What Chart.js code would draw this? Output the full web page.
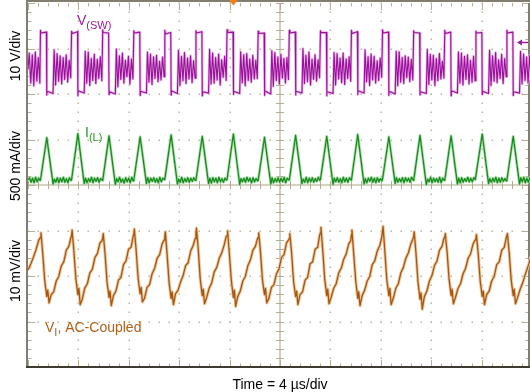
<!DOCTYPE html>
<html>
<head>
<meta charset="utf-8">
<script src="https://cdn.jsdelivr.net/npm/chart.js"></script>
<style>
    html, body { margin: 0; padding: 0; background: #fff; overflow: hidden; }
    #wrap { width: 530px; height: 392px; overflow: hidden; }
    canvas { display: block; }
</style>
</head>
<body>
<div id="wrap"><canvas id="scope" width="532" height="392"></canvas></div>
<script>
// screen: time in µs, vertical in divisions
const timePerDiv = 4;
const xDivs = 10;
const yDivs = 8;
const channelScales = ['10 V/div', '500 mA/div', '10 mV/div'];
const timeLabel = 'Time = 4 µs/div';
const triggerTime = 16.3;   // µs
const triggerLevel = 11;    // V on V(SW)

// rising edges of V(SW), µs
const edges = [0.99, 3.46, 5.93, 8.40, 10.86, 13.33, 15.80, 18.27,
               20.74, 23.21, 25.67, 28.14, 30.61, 33.08, 35.55, 38.01];

// V(SW), volts (10 V/div, 0 V sits 2.04 div above centre)
const swZero = 2.04;
const swLeadTime = [0, 0.10, 0.22, 0.34, 0.46, 0.58, 0.70, 0.82, 0.94];
const swLeadVolt = [5.0, 8.6, 2.0, 8.2, 1.4, 8.8, 2.4, 7.6, 2.0];
const swOffsets = [0.00, 0.05, 0.47, 0.50, 0.52, 1.00, 1.08, 1.20, 1.32,
                   1.44, 1.56, 1.68, 1.80, 1.92, 2.04, 2.16, 2.28, 2.40];
const swRows = [
    [13.6, 13.0, 13.2, -0.6, 0.2, -0.3, 9.3, 1.6, 8.5, 2.4, 8.0, 1.8, 7.6, 2.8, 8.2, 2.2, 7.0, 3.2],
    [13.4, 12.9, 13.3, -0.8, 0.3, -0.2, 9.0, 2.0, 8.8, 1.5, 7.4, 2.6, 8.3, 1.9, 7.2, 3.0, 7.8, 2.5],
    [13.7, 13.1, 13.0, -0.5, 0.1, -0.4, 9.5, 1.2, 8.0, 2.8, 8.6, 2.0, 7.0, 3.4, 7.9, 1.8, 7.3, 2.9],
    [13.5, 13.0, 13.2, -0.7, 0.2, -0.2, 8.8, 2.2, 8.4, 1.7, 7.8, 3.0, 8.1, 2.3, 6.8, 2.7, 7.7, 3.4],
    [13.6, 12.8, 13.1, -0.6, 0.3, -0.3, 9.2, 1.5, 7.9, 2.5, 8.7, 1.9, 7.5, 2.9, 8.0, 2.1, 6.9, 3.1],
    [13.5, 13.0, 13.3, -0.8, 0.1, -0.2, 9.4, 1.8, 8.6, 2.0, 7.6, 2.7, 8.4, 1.6, 7.1, 3.3, 7.9, 2.6],
    [13.7, 13.1, 13.2, -0.5, 0.2, -0.3, 8.9, 2.1, 8.2, 1.4, 8.5, 2.6, 7.3, 2.2, 8.1, 2.9, 7.0, 3.0],
    [13.4, 12.9, 13.0, -0.7, 0.3, -0.4, 9.1, 1.3, 8.7, 2.6, 7.7, 1.8, 8.3, 3.1, 7.4, 2.0, 7.6, 2.8],
    [13.6, 13.0, 13.2, -0.6, 0.2, -0.2, 9.6, 1.9, 8.1, 2.3, 8.8, 1.6, 7.2, 2.8, 8.2, 2.4, 7.1, 3.2],
    [13.5, 13.1, 13.1, -0.8, 0.1, -0.3, 8.7, 1.6, 8.5, 2.9, 7.5, 2.1, 8.6, 1.7, 7.3, 3.0, 7.8, 2.4],
    [13.6, 12.9, 13.3, -0.5, 0.3, -0.2, 9.3, 2.3, 7.8, 1.5, 8.4, 2.7, 7.9, 2.0, 6.9, 2.6, 7.5, 3.3],
    [13.7, 13.0, 13.2, -0.7, 0.2, -0.4, 9.0, 1.4, 8.9, 2.2, 7.6, 1.9, 8.0, 3.2, 7.7, 2.3, 7.2, 2.7],
    [13.5, 13.1, 13.0, -0.6, 0.1, -0.3, 9.4, 1.7, 8.3, 2.7, 8.1, 1.5, 7.4, 2.5, 8.5, 2.9, 6.8, 3.1],
    [13.6, 12.9, 13.2, -0.8, 0.3, -0.2, 8.8, 2.0, 8.6, 1.6, 7.9, 2.8, 8.2, 1.8, 7.0, 2.2, 7.9, 2.5],
    [13.4, 13.0, 13.1, -0.5, 0.2, -0.3, 9.2, 1.5, 8.0, 2.4, 8.7, 2.1, 7.1, 3.0, 8.3, 1.9, 7.4, 3.4],
    [13.6, 13.0, 13.2, -0.7, 0.1, -0.2, 9.0, 1.8, 8.4, 2.6, 7.7, 2.0, 8.1, 2.7, 7.5, 2.3, 7.2, 3.0]
];

// I(L), mA (500 mA/div, 0 mA sits 0.09 div above centre)
const ilZero = 0.09;
const ilLeadTime = [0, 0.12, 0.24, 0.36, 0.48, 0.60, 0.72, 0.84, 0.95];
const ilLeadAmp = [10, 35, -15, 30, -20, 40, -10, 30, 5];
const ilOffsets = [0.00, 0.50, 1.00, 1.10, 1.22, 1.34, 1.46, 1.58, 1.70,
                   1.82, 1.94, 2.06, 2.18, 2.30, 2.42];
const ilRows = [
    [10, 475, -35, 20, -15, 35, -20, 30, -10, 40, -15, 25, -20, 35, 5],
    [15, 520, -30, 30, -20, 25, -10, 40, -20, 30, -5, 35, -15, 25, 10],
    [5, 495, -40, 25, -10, 40, -15, 20, -25, 35, -10, 30, -20, 40, 0],
    [10, 485, -30, 35, -20, 30, -5, 35, -15, 25, -20, 40, -10, 30, 15],
    [20, 505, -35, 20, -15, 40, -20, 25, -10, 35, -15, 30, -5, 35, 5],
    [10, 490, -30, 30, -25, 35, -10, 30, -20, 40, -10, 25, -15, 30, 10],
    [15, 515, -40, 25, -10, 30, -15, 40, -5, 30, -20, 35, -10, 25, 0],
    [5, 480, -35, 35, -20, 25, -10, 35, -15, 30, -10, 40, -20, 30, 10],
    [10, 500, -30, 20, -15, 40, -20, 30, -10, 35, -15, 25, -5, 40, 5],
    [15, 490, -40, 30, -10, 35, -15, 25, -20, 40, -10, 30, -15, 35, 10],
    [10, 510, -35, 25, -20, 30, -5, 40, -15, 30, -20, 35, -10, 25, 0],
    [20, 485, -30, 35, -15, 25, -10, 35, -20, 35, -5, 30, -15, 40, 10],
    [5, 500, -40, 20, -10, 40, -20, 30, -10, 25, -15, 40, -20, 30, 5],
    [10, 495, -35, 30, -20, 35, -15, 25, -5, 40, -10, 30, -10, 35, 15],
    [15, 515, -30, 25, -15, 30, -10, 40, -20, 30, -15, 35, -5, 25, 0],
    [10, 490, -35, 35, -10, 40, -20, 30, -15, 35, -10, 25, -20, 30, 10]
];

// V(I) AC-coupled, mV (10 mV/div, 0 mV sits 1.87 div below centre)
const viZero = -1.87;
const viLeadTime = [0, 0.20, 0.45, 0.65, 0.85];
const viLeadMv = [0.0, 1.2, 3.0, 4.6, 6.6];
const viOffsets = [0.00, 0.04, 0.18, 0.34, 0.50, 0.58, 0.68, 0.85,
                   1.05, 1.25, 1.45, 1.65, 1.85, 2.05, 2.25, 2.40];
const viRows = [
    [7.2, 8.2, 3.6, -2.4, -5.8, -4.4, -7.2, -5.4, -4.8, -2.4, -1.4, 0.9, 1.8, 4.4, 5.2, 7.0],
    [7.6, 8.8, 4.2, -2.0, -5.4, -4.0, -7.6, -6.4, -3.9, -3.0, -0.6, 0.2, 2.8, 3.6, 6.0, 6.4],
    [7.0, 8.0, 3.8, -2.6, -6.0, -4.6, -7.8, -5.6, -4.6, -2.2, -1.6, 1.2, 2.0, 4.6, 5.0, 7.2],
    [8.0, 9.0, 4.4, -1.8, -5.2, -3.8, -7.0, -6.2, -3.8, -3.2, -0.8, 0.4, 2.6, 3.4, 5.8, 6.6],
    [7.4, 8.4, 3.4, -2.8, -6.2, -4.8, -7.6, -5.2, -4.4, -2.6, -1.2, 1.0, 1.6, 4.2, 5.4, 6.9],
    [8.4, 9.2, 4.6, -2.0, -5.6, -4.2, -7.4, -6.0, -4.0, -2.8, -0.4, 0.6, 2.6, 3.8, 5.6, 7.4],
    [7.6, 8.6, 3.6, -2.4, -6.0, -4.4, -8.0, -5.8, -4.6, -2.4, -1.4, 1.0, 2.2, 4.4, 5.2, 6.8],
    [7.2, 8.2, 4.0, -2.2, -5.4, -4.0, -7.2, -6.2, -3.8, -3.2, -0.8, 0.2, 2.8, 3.4, 6.0, 6.6],
    [7.0, 8.0, 3.8, -2.6, -5.8, -4.6, -7.6, -5.4, -4.8, -2.2, -1.6, 1.4, 1.8, 4.6, 5.0, 7.6],
    [8.2, 9.4, 4.4, -2.0, -5.6, -4.2, -7.4, -6.0, -4.0, -3.0, -0.6, 0.4, 2.4, 3.6, 5.8, 6.4],
    [7.8, 8.8, 3.6, -2.4, -6.2, -4.8, -7.8, -5.6, -4.4, -2.4, -1.4, 1.2, 2.0, 4.2, 5.4, 7.2],
    [8.6, 9.6, 4.2, -2.2, -5.6, -4.0, -7.6, -6.2, -4.0, -3.0, -0.6, 0.6, 2.6, 3.8, 5.8, 6.8],
    [7.4, 8.4, 3.8, -2.6, -6.4, -5.0, -8.6, -5.8, -4.6, -2.4, -1.2, 1.0, 2.0, 4.4, 5.2, 7.0],
    [7.2, 8.0, 4.0, -2.0, -5.6, -4.2, -7.4, -6.0, -4.0, -3.0, -0.8, 0.4, 2.6, 3.6, 5.8, 6.6],
    [6.8, 7.8, 3.6, -2.4, -5.8, -4.6, -7.6, -5.4, -4.6, -2.4, -1.4, 1.2, 1.8, 4.4, 5.0, 7.0],
    [7.0, 8.0, 3.8, -2.2, -5.6, -4.2, -7.4, -6.0, -4.2, -2.8, -1.0, 0.6, 2.4, 3.8, 5.6, 6.8]
];

const FONT = '"Liberation Sans", Arial, sans-serif';

// turn a channel's readings into screen points (div units)
function buildTrace(leadTime, leadVals, offsets, rows, zero, perDiv) {
    const points = [];
    leadTime.forEach((t, i) => points.push({ x: t, y: zero + leadVals[i] / perDiv }));
    rows.forEach((row, k) => {
        row.forEach((v, i) => points.push({ x: edges[k] + offsets[i], y: zero + v / perDiv }));
    });
    return points;
}

const swData = buildTrace(swLeadTime, swLeadVolt, swOffsets, swRows, swZero, 10);
const ilData = buildTrace(ilLeadTime, ilLeadAmp, ilOffsets, ilRows, ilZero, 500);
const viData = buildTrace(viLeadTime, viLeadMv, viOffsets, viRows, viZero, 10);

function traceSet(data, color, width, order) {
    return {
        data: data,
        borderColor: color,
        borderWidth: width,
        pointRadius: 0,
        tension: 0,
        borderJoinStyle: 'round',
        order: order
    };
}

// label with a subscript
function drawSubLabel(ctx, x, base, main, sub, rest, color) {
    ctx.fillStyle = color;
    ctx.font = '14px ' + FONT;
    ctx.fillText(main, x, base);
    let cx = x + ctx.measureText(main).width;
    ctx.font = '11px ' + FONT;
    ctx.fillText(sub, cx, base + 3.5);
    cx += ctx.measureText(sub).width;
    if (rest) {
        ctx.font = '14px ' + FONT;
        ctx.fillText(rest, cx, base);
    }
}

// graticule, scale texts and markers
const scopeScreen = {
    id: 'scopeScreen',
    beforeDatasetsDraw(chart) {
        const { ctx, chartArea: a, scales: { x, y } } = chart;
        const xMax = xDivs * timePerDiv;
        ctx.save();

        // dotted grid
        ctx.fillStyle = '#bcb5a1';
        for (let i = 1; i < xDivs; i++) {
            if (i === xDivs / 2) continue;
            const px = Math.round(x.getPixelForValue(i * timePerDiv));
            for (let j = 0; j <= yDivs * 5; j++) {
                const py = Math.round(y.getPixelForValue(-yDivs / 2 + j * 0.2));
                ctx.fillRect(px - 0.5, py - 0.5, 1.5, 1.5);
            }
        }
        for (let j = 1; j < yDivs; j++) {
            if (j === yDivs / 2) continue;
            const py = Math.round(y.getPixelForValue(-yDivs / 2 + j));
            for (let i = 0; i <= xDivs * 5; i++) {
                const px = Math.round(x.getPixelForValue(i * timePerDiv / 5));
                ctx.fillRect(px - 0.5, py - 0.5, 1.5, 1.5);
            }
        }

        // centre cross
        const cx = x.getPixelForValue(xMax / 2);
        const cy = y.getPixelForValue(0);
        ctx.strokeStyle = '#c9c3ae';
        ctx.lineWidth = 1.6;
        ctx.beginPath();
        ctx.moveTo(cx, a.top); ctx.lineTo(cx, a.bottom);
        ctx.moveTo(a.left, cy); ctx.lineTo(a.right, cy);
        ctx.stroke();

        ctx.strokeStyle = '#b5ad97';
        ctx.lineWidth = 1;
        ctx.beginPath();
        for (let i = 0; i <= xDivs * 5; i++) {
            const px = Math.round(x.getPixelForValue(i * timePerDiv / 5)) + 0.5;
            ctx.moveTo(px, cy - 4); ctx.lineTo(px, cy + 4);
            // top and bottom edge ticks
            const len = i % 5 === 0 ? 7 : 3.5;
            ctx.moveTo(px, a.top); ctx.lineTo(px, a.top + len);
            ctx.moveTo(px, a.bottom); ctx.lineTo(px, a.bottom - len);
        }
        for (let j = 0; j <= yDivs * 5; j++) {
            const py = Math.round(y.getPixelForValue(-yDivs / 2 + j * 0.2)) + 0.5;
            ctx.moveTo(cx - 4, py); ctx.lineTo(cx + 4, py);
            const len = j % 5 === 0 ? 7 : 3.5;
            ctx.moveTo(a.left, py); ctx.lineTo(a.left + len, py);
            ctx.moveTo(529, py); ctx.lineTo(529 - len, py);
        }
        ctx.stroke();

        // frame
        ctx.strokeStyle = '#837d70';
        ctx.lineWidth = 2;
        ctx.beginPath();
        ctx.moveTo(a.left - 1, a.bottom); ctx.lineTo(a.left - 1, a.top - 2);
        ctx.lineTo(a.right, a.top - 2);
        ctx.moveTo(529, a.top); ctx.lineTo(529, a.bottom);
        ctx.stroke();
        ctx.strokeStyle = '#3f3a32';
        ctx.beginPath();
        ctx.moveTo(a.left - 2, a.bottom); ctx.lineTo(a.right, a.bottom);
        ctx.stroke();
        ctx.restore();
    },
    afterDraw(chart) {
        const { ctx, scales: { x, y } } = chart;
        ctx.save();
        ctx.textAlign = 'left';
        ctx.textBaseline = 'alphabetic';

        // volts/div on the left, rotated
        ctx.fillStyle = '#000';
        ctx.font = '14px ' + FONT;
        const labelMid = [56, 166, 271];
        channelScales.forEach((txt, i) => {
            ctx.save();
            ctx.translate(20, labelMid[i]);
            ctx.rotate(-Math.PI / 2);
            ctx.textAlign = 'center';
            ctx.fillText(txt, 0, 0);
            ctx.restore();
        });

        // time base
        ctx.textAlign = 'center';
        ctx.fillText(timeLabel, x.getPixelForValue(xDivs * timePerDiv / 2), 389);
        ctx.textAlign = 'left';

        // channel names
        drawSubLabel(ctx, 77, 25, 'V', '(SW)', '', '#9c1a9c');
        drawSubLabel(ctx, 85, 137, 'I', '(L)', '', '#2a962a');
        drawSubLabel(ctx, 45, 332, 'V', 'I', ', AC-Coupled', '#b0621a');

        // trigger position
        const tx = x.getPixelForValue(triggerTime);
        ctx.fillStyle = '#f07d1e';
        ctx.beginPath();
        ctx.moveTo(tx - 4.5, 0); ctx.lineTo(tx + 4.5, 0); ctx.lineTo(tx, 5.5);
        ctx.closePath();
        ctx.fill();

        // trigger level
        const ty = Math.round(y.getPixelForValue(swZero + triggerLevel / 10)) + 0.5;
        ctx.strokeStyle = '#a0189f';
        ctx.fillStyle = '#a0189f';
        ctx.lineWidth = 1.5;
        ctx.beginPath();
        ctx.moveTo(521, ty); ctx.lineTo(528, ty);
        ctx.stroke();
        ctx.beginPath();
        ctx.moveTo(517, ty); ctx.lineTo(522, ty - 3); ctx.lineTo(522, ty + 3);
        ctx.closePath();
        ctx.fill();
        ctx.restore();
    }
};

new Chart(document.getElementById('scope'), {
    type: 'line',
    data: {
        datasets: [
            traceSet(swData, '#9a109a', 1.1, 0),
            traceSet(ilData, '#14881a', 1.2, 0),
            traceSet(viData, '#a5560f', 1.3, 0),
            traceSet(swData, '#e8b4e8', 2.6, 1),
            traceSet(ilData, '#a9dca9', 2.8, 1),
            traceSet(viData, '#edc9a2', 3.2, 1)
        ]
    },
    options: {
        responsive: false,
        animation: false,
        events: [],
        layout: { padding: { left: 28, right: 0, top: 3, bottom: 25 } },
        scales: {
            x: { type: 'linear', min: 0, max: xDivs * timePerDiv, display: false },
            y: { type: 'linear', min: -yDivs / 2, max: yDivs / 2, display: false }
        },
        plugins: {
            legend: { display: false },
            tooltip: { enabled: false }
        }
    },
    plugins: [scopeScreen]
});
</script>
</body>
</html>
